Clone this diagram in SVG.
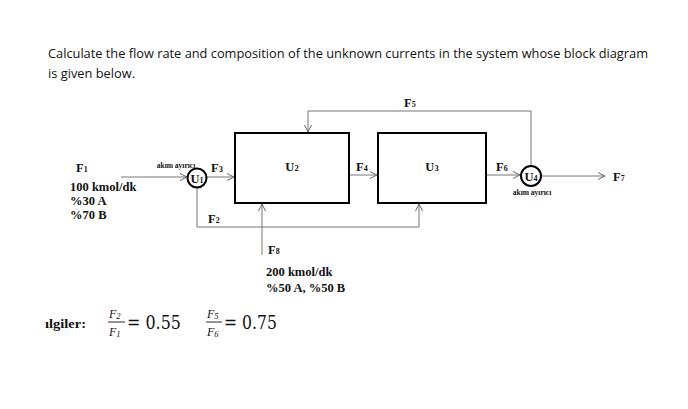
<svg xmlns="http://www.w3.org/2000/svg" width="688" height="409" viewBox="0 0 688 409">
<style>
.t{font-family:"Open Sans","Liberation Sans",Arial,sans-serif;font-size:13.5px;fill:#111}
.b{font-family:"Liberation Serif","Times New Roman",serif;font-weight:bold;font-size:12.5px;fill:#111}
.s{font-family:"Liberation Serif","Times New Roman",serif;font-weight:bold;font-size:7.5px;fill:#111}
.m{font-family:"DejaVu Serif","Liberation Serif",serif;font-size:18px;fill:#111}
.mi{font-family:"Liberation Serif","Times New Roman",serif;font-style:italic;font-size:12px;fill:#111}
.box{fill:#fff;stroke:#000;stroke-width:2}
.cir{fill:#fff;stroke:#000;stroke-width:2}
.ln{fill:none;stroke:#777;stroke-width:1}
</style>
<defs>
<marker id="ar" markerWidth="10" markerHeight="10" refX="8" refY="4" orient="auto" markerUnits="userSpaceOnUse">
<path d="M1,0.5 L8,4 L1,7.5" fill="none" stroke="#666" stroke-width="1"/>
</marker>
</defs>
<rect width="688" height="409" fill="#fff"/>
<text class="t" x="48" y="58" textLength="600" lengthAdjust="spacingAndGlyphs">Calculate the flow rate and composition of the unknown currents in the system whose block diagram</text>
<text class="t" x="48" y="78" textLength="87" lengthAdjust="spacingAndGlyphs">is given below.</text>

<g id="connectors">
<path class="ln" d="M121,177 H187" marker-end="url(#ar)"/>
<path class="ln" d="M207,177 H234" marker-end="url(#ar)"/>
<path class="ln" d="M197,187 V227 H419 V204" marker-end="url(#ar)"/>
<path class="ln" d="M262,255 V204" marker-end="url(#ar)"/>
<path class="ln" d="M350,175 H377" marker-end="url(#ar)"/>
<path class="ln" d="M487,175 H520" marker-end="url(#ar)"/>
<path class="ln" d="M531,166 V111 H308 V132" marker-end="url(#ar)"/>
<path class="ln" d="M542,176 H605" marker-end="url(#ar)"/>
</g>

<g id="U2">
<rect class="box" x="235" y="133" width="114" height="70"/>
<text class="b" x="292" y="171" text-anchor="middle">U<tspan font-size="8.5">2</tspan></text>
</g>
<g id="U3">
<rect class="box" x="378" y="133" width="108" height="70"/>
<text class="b" x="432" y="171" text-anchor="middle">U<tspan font-size="8.5">3</tspan></text>
</g>
<g id="U1">
<circle class="cir" cx="197" cy="178" r="9.5"/>
<text class="b" x="197" y="182.5" text-anchor="middle">U<tspan font-size="8">1</tspan></text>
<text class="s" x="176" y="168" text-anchor="middle">akım ayırıcı</text>
</g>
<g id="U4">
<circle class="cir" cx="531" cy="176" r="10"/>
<text class="b" x="531" y="180.5" text-anchor="middle">U<tspan font-size="8">4</tspan></text>
<text class="s" x="532" y="195" text-anchor="middle">akım ayırıcı</text>
</g>

<g id="labels">
<text class="b" x="76" y="172">F<tspan font-size="8">1</tspan></text>
<text class="b" x="70" y="191">100 kmol/dk</text>
<text class="b" x="70" y="205">%30 A</text>
<text class="b" x="70" y="219">%70 B</text>
<text class="b" x="211" y="172">F<tspan font-size="8.5">3</tspan></text>
<text class="b" x="208" y="223">F<tspan font-size="8">2</tspan></text>
<text class="b" x="356" y="171">F<tspan font-size="8">4</tspan></text>
<text class="b" x="404" y="107">F<tspan font-size="8">5</tspan></text>
<text class="b" x="496" y="171">F<tspan font-size="8">6</tspan></text>
<text class="b" x="613" y="181">F<tspan font-size="8">7</tspan></text>
<text class="b" x="268" y="254">F<tspan font-size="8">8</tspan></text>
<text class="b" x="266" y="276">200 kmol/dk</text>
<text class="b" x="266" y="292">%50 A, %50 B</text>
</g>

<g id="givens">
<text class="b" x="45" y="328" textLength="41" lengthAdjust="spacingAndGlyphs">ılgiler:</text>
<text class="mi" x="109" y="318">F<tspan font-size="8.5" dy="1">2</tspan></text>
<line x1="108" y1="322" x2="125" y2="322" stroke="#111" stroke-width="0.9"/>
<text class="mi" x="109" y="335.5">F<tspan font-size="8.5" dy="1">1</tspan></text>
<text class="m" x="127" y="328.5" textLength="54" lengthAdjust="spacingAndGlyphs">= 0.55</text>
<text class="mi" x="207" y="318">F<tspan font-size="8.5" dy="1">5</tspan></text>
<line x1="206" y1="322" x2="222" y2="322" stroke="#111" stroke-width="0.9"/>
<text class="mi" x="207" y="335.5">F<tspan font-size="8.5" dy="1">6</tspan></text>
<text class="m" x="224" y="328.5" textLength="53" lengthAdjust="spacingAndGlyphs">= 0.75</text>
</g>
</svg>
